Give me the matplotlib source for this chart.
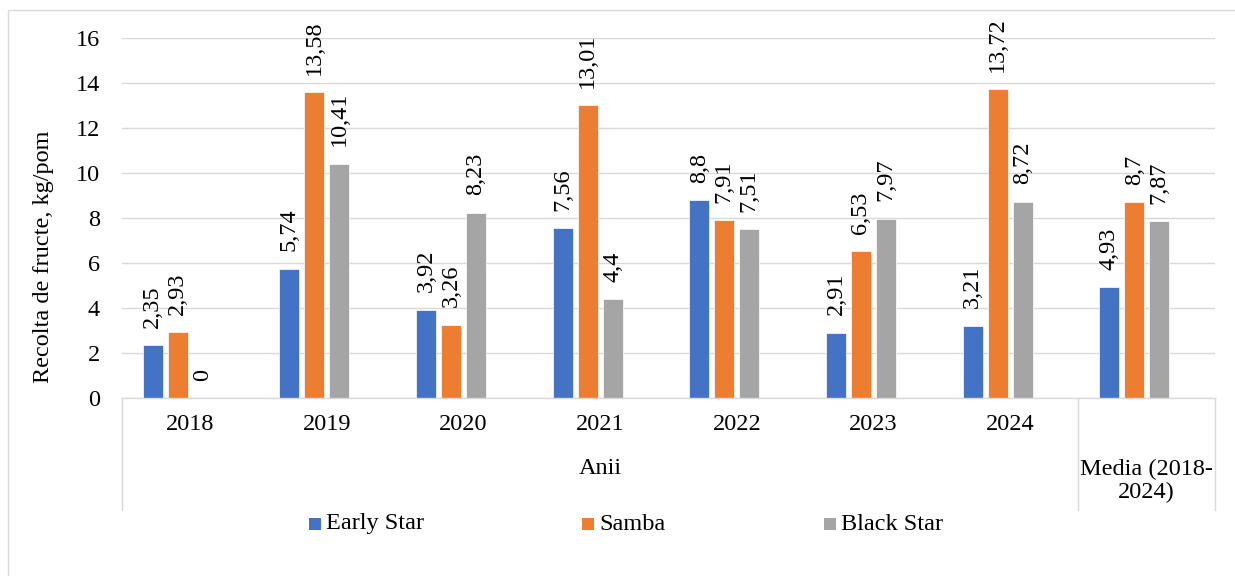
import matplotlib
matplotlib.use("Agg")
import matplotlib.pyplot as plt
from matplotlib.patches import Rectangle
from matplotlib.lines import Line2D
import numpy as np

categories = ["2018", "2019", "2020", "2021", "2022", "2023", "2024", "Media (2018-\n2024)"]
group_label = "Anii"
series_names = ["Early Star", "Samba", "Black Star"]
early_star = [2.35, 5.74, 3.92, 7.56, 8.8, 2.91, 3.21, 4.93]
samba = [2.93, 13.58, 3.26, 13.01, 7.91, 6.53, 13.72, 8.7]
black_star = [0, 10.41, 8.23, 4.4, 7.51, 7.97, 8.72, 7.87]
colors = ["#4472C4", "#ED7D31", "#A5A5A5"]
y_ticks = [0, 2, 4, 6, 8, 10, 12, 14, 16]

plt.rcParams['font.family'] = ['Liberation Serif', 'DejaVu Serif']
FS = 17.5

W, H = 1235, 576
fig = plt.figure(figsize=(W / 100, H / 100), dpi=100)

def fx(px):
    return px / W

def fy(py):
    return 1 - py / H

# outer border
fig.add_artist(Rectangle((fx(8), fy(600)), fx(1300), fy(10) - fy(600), transform=fig.transFigure,
                         fill=False, edgecolor="#D9D9D9", linewidth=1.0))

L, R, T, B = 122, 1215, 38, 398
ax = fig.add_axes([fx(L), fy(B), fx(R) - fx(L), fy(T) - fy(B)])

n = len(categories)
x = np.arange(n)
step = 0.183
width = 0.146
# the source chart reserves a fourth (empty) series slot, so groups sit left of centre
for k, (vals, col, name) in enumerate(zip([early_star, samba, black_star], colors, series_names)):
    pos = x + (k - 1.5) * step
    ax.bar(pos, vals, width=width, color=col, edgecolor="white", linewidth=0.5, zorder=3, label=name)
    for px_, v in zip(pos, vals):
        lab = ("%g" % v).replace(".", ",")
        ax.annotate(lab, (px_, v), xytext=(0, 12.5), textcoords="offset points",
                    rotation=90, ha="center", va="bottom", fontsize=FS, color="#000000", zorder=4)

ax.set_xlim(-0.5, n - 0.5)
ax.set_ylim(0, 16)
ax.set_yticks(y_ticks)
ax.set_yticklabels([str(t) for t in y_ticks], fontsize=FS)
ax.tick_params(axis="y", length=0, pad=16)
ax.set_xticks([])
ax.yaxis.grid(True, color="#D9D9D9", linewidth=1.0, zorder=0)
for s in ["top", "right", "left"]:
    ax.spines[s].set_visible(False)
ax.spines["bottom"].set_color("#D9D9D9")
ax.spines["bottom"].set_linewidth(1.0)
ax.spines["bottom"].set_zorder(5)
ax.set_ylabel("Recolta de fructe, kg/pom", fontsize=FS)
ax.yaxis.set_label_coords(fx(45) - fx(L), (fy(257) - fy(B)) / (fy(T) - fy(B)))

# multi-level category axis
sep_x = [-0.5, n - 1.5, n - 0.5]
for sx in sep_x:
    x0 = ax.transData.transform((sx, 0))[0] / W
    fig.add_artist(Line2D([x0, x0], [fy(B), fy(510)], transform=fig.transFigure,
                          color="#D9D9D9", linewidth=1.0))
for i, c in enumerate(categories[:-1]):
    xf = ax.transData.transform((i, 0))[0] / W
    fig.text(xf, fy(425), c, ha="center", va="center", fontsize=FS)
xa = (ax.transData.transform((-0.5, 0))[0] + ax.transData.transform((n - 1.5, 0))[0]) / 2 / W
fig.text(xa, fy(468), group_label, ha="center", va="center", fontsize=FS)
xm = ax.transData.transform((n - 1, 0))[0] / W
fig.text(xm, fy(481), categories[-1], ha="center", va="center", fontsize=FS, linespacing=1.1)

# legend
leg_marker_x = [309, 582, 824]
for mxp, col, name in zip(leg_marker_x, colors, series_names):
    fig.add_artist(Rectangle((fx(mxp), fy(530)), fx(12), fy(518) - fy(530), transform=fig.transFigure,
                             facecolor=col, edgecolor="none"))
    fig.text(fx(mxp + 17), fy(524), name, ha="left", va="center", fontsize=FS)

fig.savefig("out.png", dpi=100)
